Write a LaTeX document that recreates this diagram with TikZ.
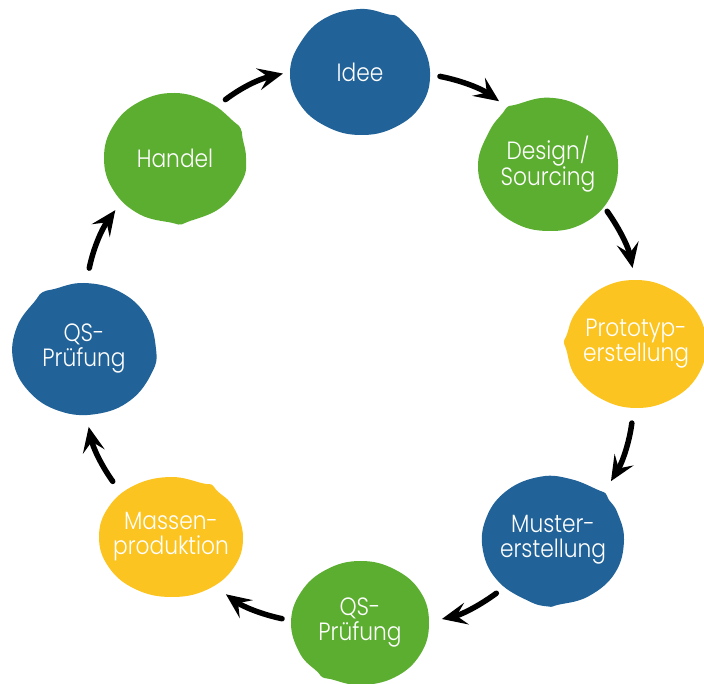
\documentclass[tikz,border=0pt]{standalone}
\usepackage{fontspec}
\IfFontExistsTF{Poppins Light}
  {\setmainfont{Poppins Light}[FakeStretch=0.87]}
  {\setmainfont{Poppins}[FakeStretch=0.87]}
\usetikzlibrary{arrows.meta,shapes.geometric,backgrounds}

\definecolor{cblue}{RGB}{33,98,152}
\definecolor{cgreen}{RGB}{92,174,49}
\definecolor{cyellow}{RGB}{252,196,33}

% paint-blob fill behind a stage node: node, colour, x radius, y radius, outline
\newcommand\blobfill[5]{%
  \fill[#2, shift={(#1.center)}, xscale=#3, yscale=#4]
    plot[smooth cycle, tension=0.7] coordinates {#5};}

\tikzset{
  stage/.style={ellipse, inner sep=0pt, text=white, align=center,
    font=\fontsize{25}{25}\selectfont},
  flow/.style={line width=5.5pt, line cap=round,
    -{Stealth[length=25pt, width=22pt, inset=10pt]}},
}

\begin{document}
\begin{tikzpicture}[x=1pt, y=1pt]
\useasboundingbox (0,0) rectangle (704,683);

% stages of the product cycle
\node[stage, minimum width=140pt, minimum height=126pt] (idee)   at (360,611) {Idee};
\node[stage, minimum width=140pt, minimum height=134pt] (design) at (548,519) {Design/\\Sourcing};
\node[stage, minimum width=140pt, minimum height=128pt] (proto)  at (636,339) {Prototyp-\\erstellung};
\node[stage, minimum width=142pt, minimum height=130pt] (muster) at (553,143) {Muster-\\erstellung};
\node[stage, minimum width=138pt, minimum height=124pt] (qsb)    at (360,60)  {QS-\\Prüfung};
\node[stage, minimum width=144pt, minimum height=120pt] (massen) at (171,146) {Massen-\\produktion};
\node[stage, minimum width=144pt, minimum height=132pt] (qsl)    at (84,334)  {QS-\\Prüfung};
\node[stage, minimum width=142pt, minimum height=130pt] (handel) at (175,525) {Handel};

% blob backgrounds
\begin{pgfonlayer}{background}
\blobfill{idee}{cblue}{70}{63}{(0:1.0) (30:0.99) (52:1.0) (60:1.03) (66:1.0) (90:1.0) (120:0.99) (150:0.97) (180:1.0) (210:1.0) (240:0.99) (270:1.0) (300:1.01) (330:1.02)}
\blobfill{design}{cgreen}{70}{67}{(0:1.0) (30:0.99) (60:0.98) (90:0.99) (118:1.0) (124:1.03) (130:1.0) (150:0.97) (180:1.0) (210:1.0) (240:1.0) (270:1.0) (300:1.02) (330:1.02)}
\blobfill{proto}{cyellow}{70}{64}{(0:1.0) (30:1.0) (60:0.99) (90:1.0) (120:1.0) (150:0.99) (172:1.0) (178:1.03) (185:1.0) (210:1.0) (240:0.99) (270:1.0) (300:1.0) (330:1.01)}
\blobfill{muster}{cblue}{71}{65}{(0:1.0) (25:1.0) (38:1.0) (44:1.03) (50:1.0) (75:0.97) (100:0.99) (130:1.0) (160:1.0) (190:1.0) (220:1.0) (250:1.0) (266:1.025) (274:1.0) (300:1.0) (330:1.01)}
\blobfill{qsb}{cgreen}{69}{62}{(0:1.0) (30:1.01) (60:1.0) (90:1.0) (120:0.99) (150:0.99) (180:1.0) (210:1.0) (232:1.0) (238:1.03) (245:1.0) (270:1.0) (300:1.01) (330:1.01)}
\blobfill{massen}{cyellow}{72}{60}{(0:1.0) (30:1.0) (50:1.0) (57:1.04) (63:1.0) (90:1.0) (120:1.0) (150:1.0) (180:1.0) (210:1.0) (240:1.0) (270:1.0) (300:1.01) (330:1.01)}
\blobfill{qsl}{cblue}{72}{66}{(0:1.0) (30:1.0) (60:1.0) (90:1.0) (115:1.0) (124:1.035) (132:1.0) (160:0.99) (190:1.0) (220:1.0) (250:1.0) (280:1.0) (310:1.01) (340:1.01)}
\blobfill{handel}{cgreen}{71}{65}{(0:1.0) (18:1.0) (26:1.03) (34:1.0) (60:0.98) (90:1.0) (120:1.0) (150:1.0) (180:1.0) (210:1.0) (240:1.0) (268:1.0) (274:1.025) (280:1.0) (310:1.0) (340:1.01)}
\end{pgfonlayer}

% cycle arrows
\draw[flow, shorten <=10pt, shorten >=7pt]  (handel.51)  to[bend left=12] (idee.180);
\draw[flow, shorten <=10pt, shorten >=12pt] (idee.-2)    to[bend left=12] (design.125);
\draw[flow, shorten <=7pt,  shorten >=12pt] (design.-37) to[bend left=12] (proto.91);
\draw[flow, shorten <=15pt, shorten >=13pt] (proto.-92)  to[bend left=12] (muster.43);
\draw[flow, shorten <=8pt,  shorten >=13pt] (muster.-136) to[bend left=12] (qsb.1);
\draw[flow, shorten <=9pt,  shorten >=12pt] (qsb.178)    to[bend left=12] (massen.-48);
\draw[flow, shorten <=11pt, shorten >=12pt] (massen.138) to[bend left=12] (qsl.-88);
\draw[flow, shorten <=15pt, shorten >=11pt] (qsl.88)     to[bend left=12] (handel.-141);
\end{tikzpicture}
\end{document}
